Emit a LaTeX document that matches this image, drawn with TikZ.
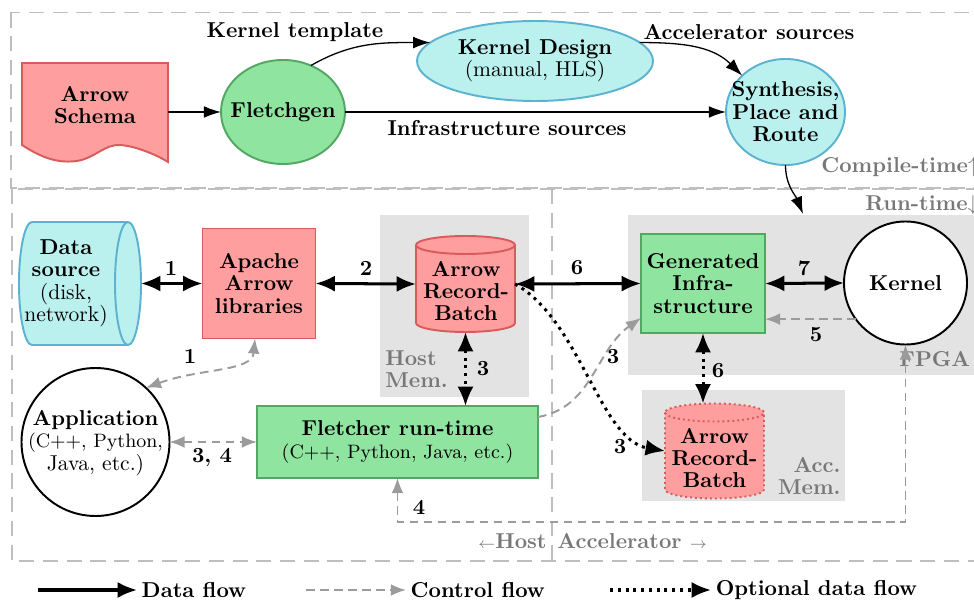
\documentclass[tikz,border=0pt]{standalone}
\usetikzlibrary{arrows.meta,shapes.geometric}
\def\pxu{0.464pt}
\newcommand\nsz{\fontsize{10pt}{10.4pt}\selectfont}
\newcommand\ssz{\fontsize{9pt}{9.8pt}\selectfont}
\definecolor{rfill}{RGB}{255,158,158}
\definecolor{rdraw}{RGB}{217,91,91}
\definecolor{gfill}{RGB}{143,228,159}
\definecolor{gdraw}{RGB}{82,168,98}
\definecolor{cfill}{RGB}{186,240,238}
\definecolor{cdraw}{RGB}{93,179,207}
\definecolor{bggray}{RGB}{227,227,227}
\definecolor{txtgray}{RGB}{120,120,120}
\definecolor{ctrlgray}{RGB}{155,155,155}
\definecolor{framegray}{RGB}{190,190,190}
\tikzset{
 dh/.tip={Latex[length=9pt,width=7.5pt]},
 th/.tip={Latex[length=8pt,width=5.5pt]},
 ch/.tip={Latex[length=7pt,width=5.5pt]},
 shp/.style={inner sep=0pt, outer sep=0pt, line width=0.9pt},
 txt/.style={align=center, font=\nsz\bfseries, inner sep=0pt},
 lbl/.style={font=\nsz\bfseries, inner sep=1pt},
 glbl/.style={font=\nsz\bfseries, text=txtgray, inner sep=0pt},
 dataf/.style={line width=1.4pt},
 optf/.style={line width=1.4pt, dash pattern=on 1.4pt off 2.2pt},
 ctrlf/.style={draw=ctrlgray, line width=0.9pt, dash pattern=on 4pt off 2.5pt},
 thinf/.style={line width=0.6pt, -th},
 frame/.style={draw=framegray, line width=0.5pt, dash pattern=on 7pt off 4pt},
 bgbox/.style={fill=bggray, inner sep=0pt, outer sep=0pt},
}
\begin{document}
\begin{tikzpicture}[x=0.464pt,y=-0.464pt]
\useasboundingbox (0,0) rectangle (974,600);
\clip (0,0) rectangle (974,600);

% frames
\draw[frame] (11,12.5) rectangle (990,188);
\draw[frame] (12,189) rectangle (990,561);
\draw[frame] (552,189) -- (552,561);

% gray memory regions
\node[bgbox, minimum width=149*\pxu, minimum height=182*\pxu] (hostmem) at (454.5,306) {};
\node[bgbox, minimum width=357*\pxu, minimum height=160.5*\pxu] (fpga) at (806.5,295.25) {};
\node[bgbox, minimum width=203*\pxu, minimum height=111*\pxu] (accmem) at (743.5,445.5) {};

% ---------- compile time ----------
\node[shp, minimum width=146*\pxu, minimum height=99*\pxu] (schema) at (95,112) {};
\draw[rdraw, fill=rfill, line width=0.9pt] (22,63) -- (168,63) -- (168,162)
  .. controls (155,154) and (135,146) .. (120,145)
  .. controls (105,144) and (95,158) .. (77,161)
  .. controls (60,163) and (45,160) .. (22,145) -- cycle;
\node[txt] (schemaT) at (95,105) {Arrow\\Schema};

\node[shp, ellipse, draw=gdraw, fill=gfill, minimum width=124*\pxu, minimum height=104*\pxu] (fg) at (283,112) {};
\node[txt] (fgT) at (fg) {Fletchgen};

\node[shp, ellipse, draw=cdraw, fill=cfill, minimum width=236*\pxu, minimum height=80*\pxu] (kd) at (535,61) {};
\node[txt, font=\nsz] (kdT) at (kd) {\textbf{Kernel Design}\\(manual, HLS)};

\node[shp, ellipse, draw=cdraw, fill=cfill, minimum width=119*\pxu, minimum height=106*\pxu] (spr) at (785.5,112) {};
\node[txt] (sprT) at (spr) {Synthesis,\\Place and\\Route};

\draw[thinf] (schema.east) -- (fg.west);
\draw[thinf] (fg.east) -- (spr.west);
\draw[thinf] (fg.59) to[out=30,in=180] (kd.170);
\draw[thinf] (kd.10) to[out=0,in=135] (spr.140);
\coordinate (fpgain) at (803,214);
\draw[thinf] (spr.south) to[out=-90,in=112] (fpgain);

\node[lbl] (ktl) at (295,32) {Kernel template};
\node[lbl] (asl) at (749,32) {Accelerator sources};
\node[lbl] (isl) at (507,128) {Infrastructure sources};

\node[glbl, anchor=west] (ctl) at (821,167) {Compile-time$\uparrow$};
\node[glbl, anchor=west] (rtl) at (865,205) {Run-time$\downarrow$};

% ---------- run time ----------
% data source cylinder
\node[shp, minimum width=122*\pxu, minimum height=123*\pxu] (ds) at (80,283.5) {};
\path[fill=cfill, draw=cdraw, line width=0.9pt] ([xshift=13*\pxu]ds.north west) -- ([xshift=-13*\pxu]ds.north east)
  arc[start angle=90, end angle=-90, x radius=13*\pxu, y radius=61.5*\pxu]
  -- ([xshift=13*\pxu]ds.south west)
  arc[start angle=270, end angle=90, x radius=13*\pxu, y radius=61.5*\pxu] -- cycle;
\draw[cdraw, line width=0.9pt] ([xshift=-13*\pxu]ds.north east) arc[start angle=90, end angle=270, x radius=13*\pxu, y radius=61.5*\pxu];
\node[txt, font=\nsz] (dsT) at (66,283.5) {\textbf{Data}\\\textbf{source}\\(disk,\\network)};

\node[shp, draw=rdraw, fill=rfill, minimum width=113*\pxu, minimum height=110*\pxu, txt] (apache) at (259,283.5) {Apache\\Arrow\\libraries};

% host record batch
\node[shp, minimum width=99*\pxu, minimum height=96*\pxu] (hrb) at (465.5,284) {};
\path[fill=rfill, draw=rdraw, line width=0.9pt] ([yshift=-9*\pxu]hrb.north west) -- ([yshift=9*\pxu]hrb.south west)
  arc[start angle=180, end angle=360, x radius=49.5*\pxu, y radius=9*\pxu]
  -- ([yshift=-9*\pxu]hrb.north east)
  arc[start angle=0, end angle=180, x radius=49.5*\pxu, y radius=9*\pxu] -- cycle;
\draw[rdraw, line width=0.9pt] ([yshift=-9*\pxu]hrb.north west) arc[start angle=180, end angle=360, x radius=49.5*\pxu, y radius=9*\pxu];
\node[txt] (hrbT) at (466,291) {Arrow\\Record-\\Batch};

\node[shp, draw=gdraw, fill=gfill, minimum width=124*\pxu, minimum height=99*\pxu, txt] (gen) at (703,283.5) {Generated\\Infra-\\structure};

\node[shp, circle, draw=black, fill=white, minimum size=123*\pxu] (kernel) at (905.5,283) {};
\node[txt] (kernelT) at (kernel) {Kernel};

\node[shp, circle, draw=black, fill=white, minimum size=148*\pxu] (app) at (95.5,442) {};
\node[txt, font=\nsz] (appT) at (95.5,443) {\textbf{Application}\\\ssz (C++, Python,\\Java, etc.)};

\node[shp, draw=gdraw, fill=gfill, minimum width=281*\pxu, minimum height=72*\pxu] (frt) at (397.5,442) {};
\node[txt, font=\nsz] (frtT) at (frt) {\textbf{Fletcher run-time}\\\ssz (C++, Python, Java, etc.)};

% accelerator record batch
\node[shp, minimum width=99*\pxu, minimum height=95*\pxu] (arb) at (714.5,451) {};
\path[fill=rfill, draw=rdraw, line width=0.9pt, dash pattern=on 0.9pt off 1.4pt] ([yshift=-9*\pxu]arb.north west) -- ([yshift=9*\pxu]arb.south west)
  arc[start angle=180, end angle=360, x radius=49.5*\pxu, y radius=9*\pxu]
  -- ([yshift=-9*\pxu]arb.north east)
  arc[start angle=0, end angle=180, x radius=49.5*\pxu, y radius=9*\pxu] -- cycle;
\draw[rdraw, line width=0.9pt, dash pattern=on 0.9pt off 1.4pt] ([yshift=-9*\pxu]arb.north west) arc[start angle=180, end angle=360, x radius=49.5*\pxu, y radius=9*\pxu];
\node[txt] (arbT) at (714.5,458) {Arrow\\Record-\\Batch};

% region labels
\node[glbl, anchor=west, align=left] (hml) at (385,369) {Host\\Mem.};
\node[glbl, anchor=east, align=right] (aml) at (841,476) {Acc.\\Mem.};
\node[glbl, anchor=west] (fpgal) at (899,359) {FPGA};
\node[glbl, anchor=east] (hostl) at (547,541) {{\scriptsize$\leftarrow$}Host};
\node[glbl, anchor=west] (accl) at (557,541) {Accelerator {\scriptsize$\rightarrow$}};

% data flows
\draw[dataf, dh-dh] (ds.east) -- (apache.west);
\draw[dataf, dh-dh] (apache.east) -- (hrb.west);
\draw[dataf, dh-dh] (hrb.east) -- (gen.west);
\draw[dataf, dh-dh] (gen.east) -- (kernel.west);

% optional flows
\draw[optf, dh-dh] (hrb.south) -- (hrb.south |- frt.north);
\draw[optf, dh-dh] (gen.south) -- (gen.south |- arb.north);
\draw[optf, -dh] (hrb.east) .. controls (580,320) and (600,440) .. (arb.west);

% control flows
\draw[ctrlf, ch-ch] (app.47) .. controls (200,368) and (252,372) .. ([xshift=-4*\pxu]apache.south);
\draw[ctrlf, ch-ch] (app.east) -- (frt.west);
\draw[ctrlf, -ch] ([yshift=-11*\pxu]frt.north east) to[out=10,in=215] ([yshift=15*\pxu]gen.south west);
\draw[ctrlf, -ch] (kernel.216) -- (kernel.216 -| gen.east);
\draw[ctrlf, ch-ch] (frt.south) -- ++(0,44) -| (kernel.south);

% flow labels
\node[lbl] (l1) at (171,268) {1};
\node[lbl] (l2) at (366,268) {2};
\node[lbl] (l6) at (577,268) {6};
\node[lbl] (l7) at (804,268) {7};
\node[lbl] (l5) at (816,335) {5};
\node[lbl] (l1c) at (190,356) {1};
\node[lbl] (l34) at (212,458) {3, 4};
\node[lbl] (l3a) at (483,369) {3};
\node[lbl] (l6b) at (718,371) {6};
\node[lbl] (l3b) at (613,357) {3};
\node[lbl] (l3c) at (620,447) {3};
\node[lbl] (l4) at (419,507) {4};

% legend
\coordinate (lg1) at (38,590);
\coordinate (lg2) at (306,590);
\coordinate (lg3) at (610,590);
\node[lbl, anchor=west, inner sep=2pt] (lgt1) at (137,590) {Data flow};
\node[lbl, anchor=west, inner sep=2pt] (lgt2) at (406,590) {Control flow};
\node[lbl, anchor=west, inner sep=2pt] (lgt3) at (711,590) {Optional data flow};
\draw[dataf, -dh] (lg1) -- (lgt1.west);
\draw[ctrlf, -ch] (lg2) -- (lgt2.west);
\draw[optf, -dh] (lg3) -- (lgt3.west);
\end{tikzpicture}
\end{document}
